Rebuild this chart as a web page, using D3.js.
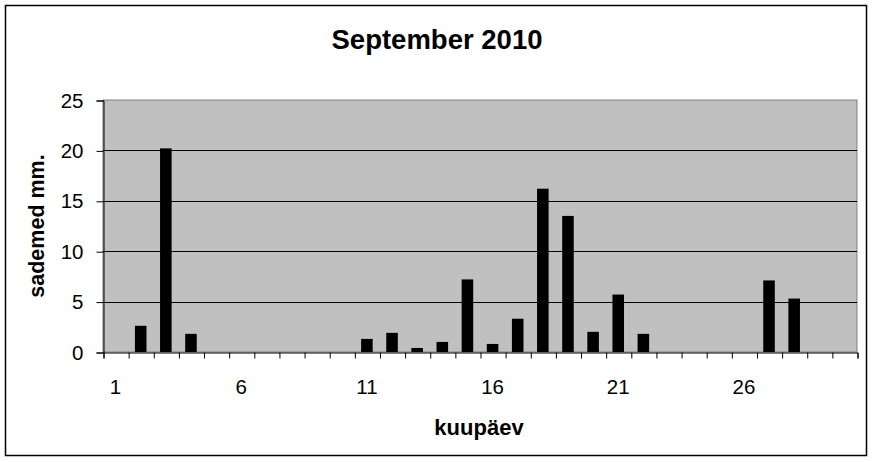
<html>
<script src="https://d3js.org/d3.v7.min.js"></script>
<head>
<style>
  body { margin: 0; background: #fff; }
  text { font-family: "Liberation Sans", Arial, sans-serif; }
</style>
</head>
<body onload='init()'>
<svg width=873 height=462>
</svg>
<script>
// precipitation per day, September 2010
var days = d3.range(1, 31);
var rain = [0, 2.6, 20.2, 1.8, 0, 0, 0, 0, 0, 0,
            1.3, 1.9, 0.4, 1.0, 7.2, 0.8, 3.3, 16.2, 13.5, 2.0,
            5.7, 1.8, 0, 0, 0, 0, 7.1, 5.3, 0, 0];
var yTicks = [0, 5, 10, 15, 20, 25];
var xLabels = [1, 6, 11, 16, 21, 26];

function init() {
  var svg = d3.select("svg");
  var left = 103, right = 857, top = 100, bottom = 352;

  var x = d3.scaleBand().domain(days).range([left, right])
    .paddingInner(0.54).paddingOuter(0.27);
  var xEdge = d3.scaleLinear().domain([0, 30]).range([left, right]);
  var y = d3.scaleLinear().domain([0, 25]).range([bottom, top]);

  // outer frame
  svg.append("rect")
    .attr("x", 5.5).attr("y", 5.5)
    .attr("width", 861).attr("height", 450)
    .attr("fill", "#fff").attr("stroke", "#000").attr("stroke-width", 1.5);

  // plot area
  svg.append("rect")
    .attr("x", left).attr("y", top)
    .attr("width", right - left).attr("height", bottom - top)
    .attr("fill", "#c0c0c0").attr("stroke", "#808080");

  // gridlines
  svg.append("g")
    .selectAll("line")
    .data(yTicks.filter(function(d) { return d > 0 && d < 25; }))
    .enter()
    .append("line")
    .attr("x1", left).attr("x2", right)
    .attr("y1", function(d) { return Math.round(y(d)) + 0.5; })
    .attr("y2", function(d) { return Math.round(y(d)) + 0.5; })
    .attr("stroke", "#000");

  // bars
  svg.append("g")
    .selectAll("rect")
    .data(days)
    .enter()
    .append("rect")
    .attr("x", function(d) { return x(d); })
    .attr("width", x.bandwidth())
    .attr("y", function(d, i) { return y(rain[i]); })
    .attr("height", function(d, i) { return y(0) - y(rain[i]); })
    .attr("fill", "#000");

  // y axis
  var yAxis = svg.append("g")
    .attr("transform", "translate(" + (left + 0.5) + ",0.5)")
    .call(d3.axisLeft(y).tickValues(yTicks).tickSize(7).tickPadding(13));
  yAxis.selectAll("text").style("font-size", "20.5px").attr("fill", "#000");
  yAxis.selectAll("line, path").attr("stroke", "#000");

  // x axis, ticks on category edges
  var xAxis = svg.append("g")
    .attr("transform", "translate(0.5," + (bottom + 0.5) + ")")
    .call(d3.axisBottom(xEdge).ticks(30).tickSize(6).tickSizeOuter(6).tickFormat(""));
  xAxis.selectAll("line, path").attr("stroke", "#000");

  svg.append("g")
    .selectAll("text")
    .data(xLabels)
    .enter()
    .append("text")
    .attr("x", function(d) { return x(d) + x.bandwidth() / 2; })
    .attr("y", 394)
    .attr("text-anchor", "middle")
    .style("font-size", "20.5px")
    .text(function(d) { return d; });

  // titles
  svg.append("text")
    .attr("x", 437).attr("y", 49)
    .attr("text-anchor", "middle")
    .style("font-size", "27.5px").style("font-weight", "bold")
    .text("September 2010");

  svg.append("text")
    .attr("x", 479).attr("y", 435)
    .attr("text-anchor", "middle")
    .style("font-size", "22px").style("font-weight", "bold")
    .text("kuupäev");

  svg.append("text")
    .attr("transform", "translate(44,226) rotate(-90)")
    .attr("text-anchor", "middle")
    .style("font-size", "21.5px").style("font-weight", "bold")
    .text("sademed mm.");
}
</script>

</body>
</html>
